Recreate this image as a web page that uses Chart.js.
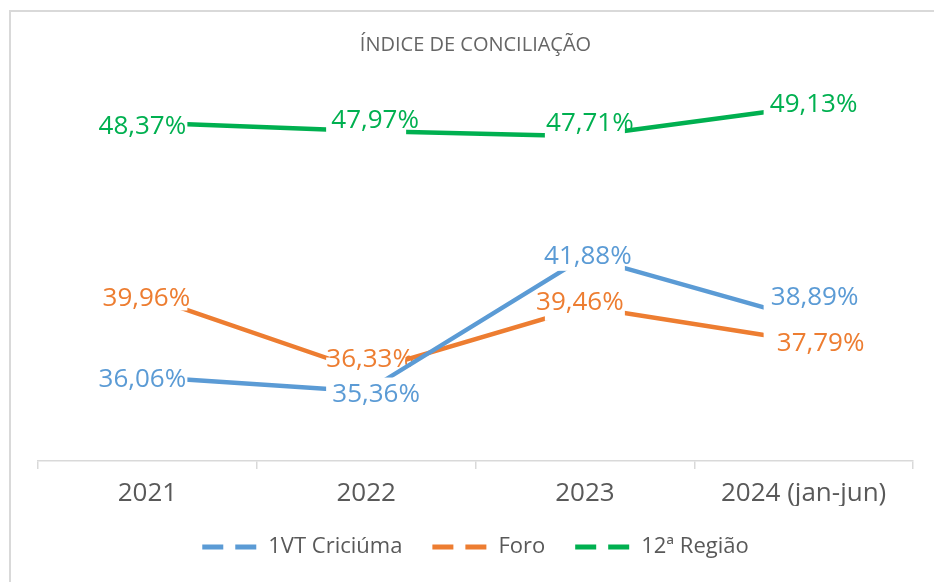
<!DOCTYPE html>
<html>
<head>
<meta charset="utf-8">
<script src="https://cdn.jsdelivr.net/npm/chart.js@4.4.0/dist/chart.umd.min.js"></script>
<style>
    body { margin: 0; background: #ffffff; }
    #frame { position: absolute; left: 9px; top: 10px; width: 1000px; height: 1000px; border: 2px solid #d9d9d9; box-sizing: border-box; }
    #wrap { position: absolute; left: 0; top: 0; width: 934px; height: 582px; }
</style>
</head>
<body>
<div id="frame"></div>
<div id="wrap"><canvas id="chart" width="934" height="582"></canvas></div>
<script>
    // data
    var categories = ['2021', '2022', '2023', '2024 (jan-jun)'];
    var series_names = ['1VT Criciúma', 'Foro', '12ª Região'];
    var vt_criciuma = [36.06, 35.36, 41.88, 38.89];
    var foro = [39.96, 36.33, 39.46, 37.79];
    var regiao_12 = [48.37, 47.97, 47.71, 49.13];
    var y_min = 32;
    var y_max = 50;

    var FONT = "'Open Sans', 'DejaVu Sans', sans-serif";

    function formatPct(v) {
        return v.toFixed(2).replace('.', ',') + '%';
    }

    // draws the value labels right after each line, with a white box that hides the line under it
    var valueLabels = {
        id: 'valueLabels',
        afterDatasetDraw: function(chart, args, opts) {
            var ctx = chart.ctx;
            var ds = chart.data.datasets[args.index];
            var shifts = opts.shifts[args.index];
            ctx.save();
            ctx.font = opts.font;
            ctx.textAlign = 'center';
            ctx.textBaseline = 'middle';
            args.meta.data.forEach(function(pt, i) {
                ctx.fillStyle = '#ffffff';
                ctx.fillRect(pt.x - 40, pt.y - 14, 80, 28);
                ctx.fillStyle = ds.borderColor;
                ctx.fillText(formatPct(ds.data[i]), pt.x + shifts[i][0], pt.y + shifts[i][1]);
            });
            ctx.restore();
        }
    };

    var ctx = document.getElementById('chart').getContext('2d');
    new Chart(ctx, {
        type: 'line',
        data: {
            labels: categories,
            datasets: [{
                label: series_names[0],
                data: vt_criciuma,
                borderColor: '#5B9BD5',
                backgroundColor: '#5B9BD5',
                borderWidth: 4.5,
                pointRadius: 0,
                tension: 0
            }, {
                label: series_names[1],
                data: foro,
                borderColor: '#ED7D31',
                backgroundColor: '#ED7D31',
                borderWidth: 4.5,
                pointRadius: 0,
                tension: 0
            }, {
                label: series_names[2],
                data: regiao_12,
                borderColor: '#00B050',
                backgroundColor: '#00B050',
                borderWidth: 4.5,
                pointRadius: 0,
                tension: 0
            }]
        },
        options: {
            responsive: false,
            animation: false,
            devicePixelRatio: 1,
            layout: {
                padding: { left: 38, right: 21, top: 0, bottom: 14 }
            },
            scales: {
                x: {
                    offset: true,
                    grid: { offset: true, drawOnChartArea: false, color: '#d9d9d9', tickLength: 8, lineWidth: 1.5 },
                    border: { color: '#d9d9d9', width: 1.5 },
                    ticks: { color: '#595959', font: { family: FONT, size: 26, lineHeight: 0.85 }, padding: 14 },
                    afterFit: function(scale) {
                        scale.height = 45;
                    }
                },
                y: {
                    display: false,
                    min: y_min,
                    max: y_max
                }
            },
            plugins: {
                title: {
                    display: true,
                    text: 'ÍNDICE DE CONCILIAÇÃO',
                    color: '#666666',
                    font: { family: FONT, size: 20, weight: 'normal' },
                    padding: { top: 33, bottom: 32 }
                },
                legend: {
                    position: 'bottom',
                    labels: {
                        usePointStyle: true,
                        pointStyleWidth: 55,
                        padding: 30,
                        color: '#595959',
                        font: { family: FONT, size: 22, lineHeight: 1.0 },
                        generateLabels: function(chart) {
                            var items = Chart.defaults.plugins.legend.labels.generateLabels(chart);
                            items.forEach(function(it) {
                                it.pointStyle = 'line';
                                it.lineDash = [21, 12];
                                it.lineWidth = 5;
                            });
                            return items;
                        }
                    }
                },
                tooltip: { enabled: false },
                valueLabels: {
                    font: "26px " + FONT,
                    shifts: [
                        [[-5, 3], [10, 3], [3, 0], [11, -21]],
                        [[-1, 2], [4, -12], [-5, -4], [17, 2]],
                        [[-5, 4], [9, -10], [5, -13], [10, -2]]
                    ]
                }
            }
        },
        plugins: [valueLabels]
    });
</script>
</body>
</html>
